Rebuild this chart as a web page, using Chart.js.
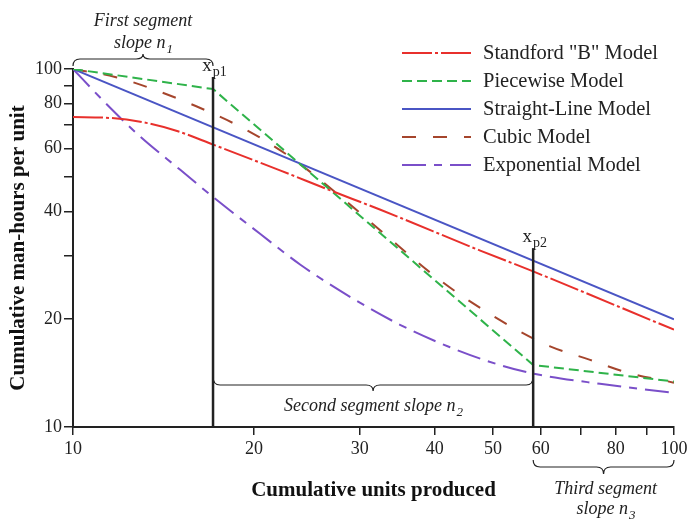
<!DOCTYPE html>
<html>
<head>
<meta charset="utf-8">
<script src="https://cdn.jsdelivr.net/npm/chart.js@4/dist/chart.umd.min.js"></script>
<style>
  html, body { margin: 0; padding: 0; background: #fff; }
</style>
</head>
<body>
<canvas id="chart" width="688" height="521"></canvas>
<script>
// Learning curve models on log-log axes
const stanfordUnits = [10, 11.5, 13.3, 14.9, 17.1, 22.1, 26.8, 32.4, 47.6, 58.3, 100];
const stanfordHours = [73.4, 73.0, 70.6, 67.1, 61.5, 52.1, 45.8, 40.5, 31.1, 27.2, 18.7];

const piecewiseUnits = [10, 17.1, 58.3, 100];
const piecewiseHours = [100, 87.9, 14.9, 13.4];

const straightUnits = [10, 100];
const straightHours = [100, 20];

const cubicUnits = [10, 11.75, 13.7, 16, 18.6, 20.9, 23.6, 27.8, 32.4, 40.8, 47.6, 54.4, 62.2, 72.5, 83.5, 100];
const cubicHours = [100, 95, 87.4, 78.8, 70.2, 63, 55, 44.2, 35.5, 25.7, 21.5, 18.8, 16.8, 15.4, 14.2, 13.3];

const expUnits = [10, 11.2, 12.9, 15.1, 17.1, 20.5, 23.9, 28.9, 35, 42.4, 51.3, 58.3, 75.3, 100];
const expHours = [100, 81.9, 65, 52.2, 43.9, 34.6, 28.4, 23.1, 19.3, 16.7, 14.9, 14.1, 13.2, 12.45];

// segment break points x_p1, x_p2 and the height their marker lines reach
const breakUnits = [17.1, 58.3];
const breakTops = [95, 31.6];
const breakNames = ['p1', 'p2'];

// tick marks on both axes, and which of them carry a label
const tickValues = [10, 20, 30, 40, 50, 60, 70, 80, 90, 100];
const xTickLabels = [10, 20, 30, 40, 50, 60, 80, 100];
const yTickLabels = [10, 20, 40, 60, 80, 100];

const SERIF = '"Liberation Serif", "Times New Roman", serif';

function pts(xs, ys) {
    return xs.map((x, i) => ({ x: x, y: ys[i] }));
}

function series(label, xs, ys, color, dash, smooth) {
    return {
        label: label,
        data: pts(xs, ys),
        borderColor: color,
        borderWidth: 2,
        borderDash: dash,
        pointRadius: 0,
        fill: false,
        tension: smooth ? 0.4 : 0,
        cubicInterpolationMode: smooth ? 'monotone' : 'default'
    };
}

// text with a subscript, centered on x
function subText(ctx, main, sub, x, y, size, italic) {
    const style = italic ? 'italic ' : '';
    ctx.font = style + size + 'px ' + SERIF;
    const w1 = ctx.measureText(main).width;
    ctx.font = style + Math.round(size * 0.72) + 'px ' + SERIF;
    const w2 = ctx.measureText(sub).width;
    const left = x - (w1 + w2) / 2;
    ctx.textAlign = 'left';
    ctx.textBaseline = 'alphabetic';
    ctx.font = style + size + 'px ' + SERIF;
    ctx.fillText(main, left, y);
    ctx.font = style + Math.round(size * 0.72) + 'px ' + SERIF;
    ctx.fillText(sub, left + w1 + 1, y + size * 0.25);
}

function brace(ctx, x1, x2, y, d, tip) {
    const xm = (x1 + x2) / 2;
    const r = 7;
    ctx.beginPath();
    ctx.moveTo(x1, y + d);
    ctx.quadraticCurveTo(x1, y, x1 + r, y);
    ctx.lineTo(xm - r, y);
    ctx.quadraticCurveTo(xm, y, xm, y + tip);
    ctx.quadraticCurveTo(xm, y, xm + r, y);
    ctx.lineTo(x2 - r, y);
    ctx.quadraticCurveTo(x2, y, x2, y + d);
    ctx.stroke();
}

const annotations = {
    id: 'annotations',
    afterDatasetsDraw(chart) {
        const ctx = chart.ctx;
        const xs = chart.scales.x;
        const ys = chart.scales.y;
        const area = chart.chartArea;
        ctx.save();

        // break point marker lines
        ctx.strokeStyle = '#222';
        ctx.lineWidth = 2.5;
        const bx = breakUnits.map(u => xs.getPixelForValue(u));
        bx.forEach((px, i) => {
            ctx.beginPath();
            ctx.moveTo(px, ys.getPixelForValue(breakTops[i]));
            ctx.lineTo(px, area.bottom);
            ctx.stroke();
            ctx.fillStyle = '#222';
            subText(ctx, 'x', breakNames[i], px + 1, ys.getPixelForValue(breakTops[i]) - 6, 19, false);
        });

        // braces
        ctx.lineWidth = 1.2;
        ctx.strokeStyle = '#222';
        brace(ctx, area.left, bx[0], 59, 7, -5);
        brace(ctx, bx[0], bx[1], 385, -8, 6);
        brace(ctx, bx[1], area.right, 467, -7, 7);

        ctx.fillStyle = '#222';
        ctx.textAlign = 'center';
        ctx.textBaseline = 'alphabetic';
        const m1 = (area.left + bx[0]) / 2;
        ctx.font = 'italic 18px ' + SERIF;
        ctx.fillText('First segment', m1, 26);
        subText(ctx, 'slope n', '1', m1, 48, 18, true);
        subText(ctx, 'Second segment slope n', '2', (bx[0] + bx[1]) / 2, 411, 18, true);
        const m3 = (bx[1] + area.right) / 2 + 2;
        ctx.font = 'italic 18px ' + SERIF;
        ctx.textAlign = 'center';
        ctx.fillText('Third segment', m3, 494);
        subText(ctx, 'slope n', '3', m3, 514, 18, true);

        // legend
        chart.data.datasets.forEach((ds, i) => {
            const y = 53 + i * 28;
            ctx.strokeStyle = ds.borderColor;
            ctx.lineWidth = 2;
            ctx.setLineDash(ds.borderDash || []);
            ctx.beginPath();
            ctx.moveTo(402, y);
            ctx.lineTo(471, y);
            ctx.stroke();
            ctx.setLineDash([]);
            ctx.fillStyle = '#222';
            ctx.font = '20.5px ' + SERIF;
            ctx.textAlign = 'left';
            ctx.textBaseline = 'middle';
            ctx.fillText(ds.label, 483, y + 1);
        });
        ctx.restore();
    }
};

const setTicks = scale => { scale.ticks = tickValues.map(v => ({ value: v })); };

new Chart(document.getElementById('chart'), {
    type: 'line',
    data: {
        datasets: [
            series('Standford "B" Model', stanfordUnits, stanfordHours, '#e8302c', [30, 3, 3, 3], true),
            series('Piecewise Model', piecewiseUnits, piecewiseHours, '#2fb34a', [10, 5], false),
            series('Straight-Line Model', straightUnits, straightHours, '#4a55c4', [], false),
            series('Cubic Model', cubicUnits, cubicHours, '#a5452c', [14, 17], true),
            series('Exponential Model', expUnits, expHours, '#7a4fc9', [24, 8, 8, 8], true)
        ]
    },
    options: {
        responsive: false,
        animation: false,
        devicePixelRatio: 1,
        layout: { padding: { top: 69, right: 14, left: 0, bottom: 0 } },
        plugins: {
            legend: { display: false },
            tooltip: { enabled: false }
        },
        scales: {
            x: {
                type: 'logarithmic',
                min: 10,
                max: 100,
                afterBuildTicks: setTicks,
                border: { display: true, color: '#222', width: 2 },
                grid: { drawOnChartArea: false, drawTicks: true, tickLength: 8, color: '#222', lineWidth: 1.5 },
                ticks: {
                    autoSkip: false,
                    maxRotation: 0,
                    padding: 3,
                    color: '#222',
                    font: { family: SERIF, size: 18 },
                    callback: v => xTickLabels.includes(Math.round(v)) ? String(Math.round(v)) : ''
                },
                title: {
                    display: true,
                    text: 'Cumulative units produced',
                    color: '#111',
                    font: { family: SERIF, size: 21, weight: 'bold' },
                    padding: { top: 0, bottom: 18 }
                },
                afterFit: s => { s.height = 94; s.paddingLeft = 0; s.paddingRight = 0; }
            },
            y: {
                type: 'logarithmic',
                min: 10,
                max: 100,
                afterBuildTicks: setTicks,
                border: { display: true, color: '#222', width: 2 },
                grid: { drawOnChartArea: false, drawTicks: true, tickLength: 9, color: '#222', lineWidth: 1.5 },
                ticks: {
                    autoSkip: false,
                    padding: 2,
                    color: '#222',
                    font: { family: SERIF, size: 18 },
                    callback: v => yTickLabels.includes(Math.round(v)) ? String(Math.round(v)) : ''
                },
                title: {
                    display: true,
                    text: 'Cumulative man-hours per unit',
                    color: '#111',
                    font: { family: SERIF, size: 21, weight: 'bold' },
                    padding: { top: 6, bottom: 0 }
                },
                afterFit: s => { s.width = 73; s.paddingTop = 0; s.paddingBottom = 0; }
            }
        }
    },
    plugins: [annotations]
});
</script>
</body>
</html>
